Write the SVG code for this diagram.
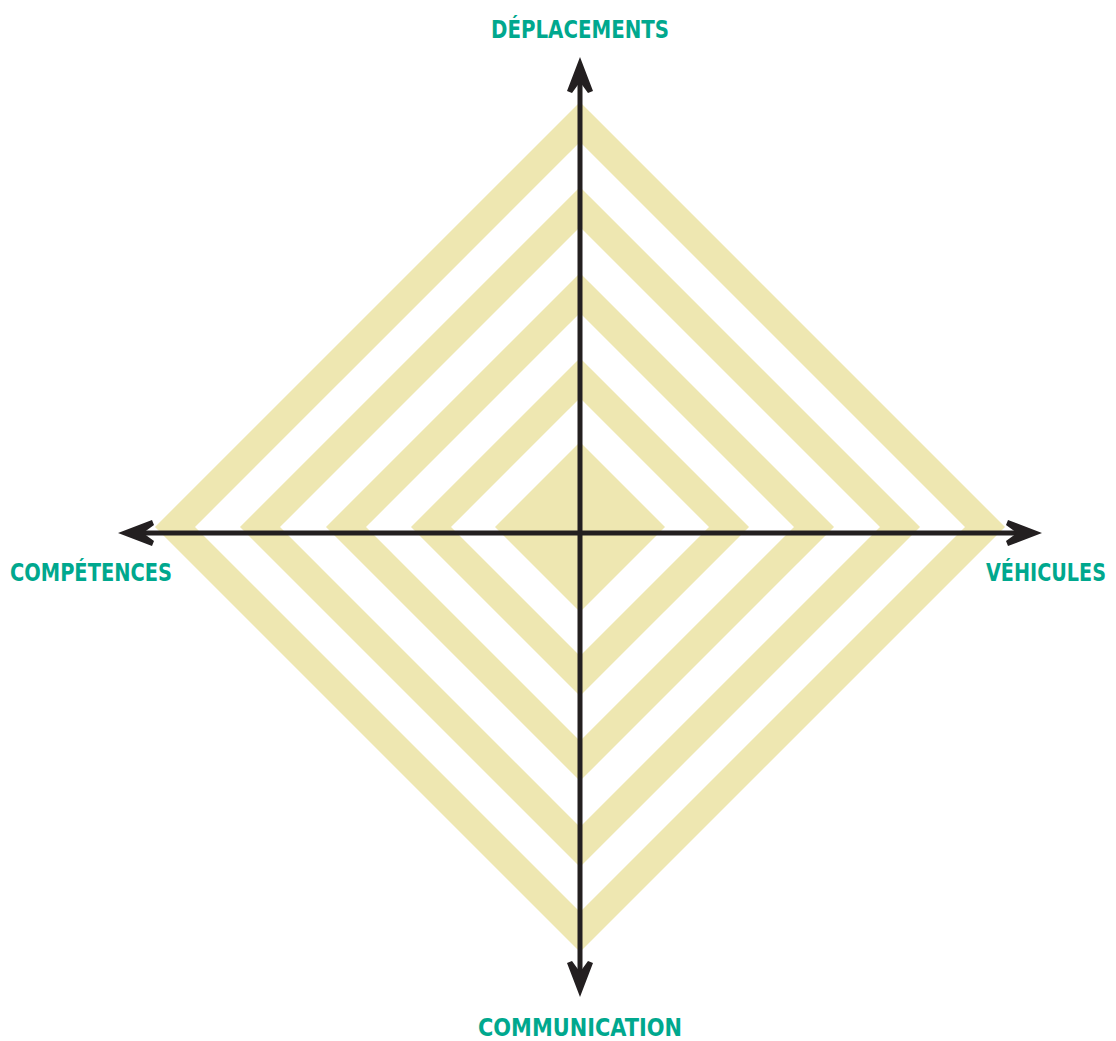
<svg xmlns="http://www.w3.org/2000/svg" width="1116" height="1041" viewBox="0 0 1116 1041">
<style>
.band{fill:none;stroke:#EEE7B1;stroke-width:28.3;stroke-linejoin:miter}
.axis{stroke:#231F20;stroke-width:5;fill:none}
.head{fill:#231F20}
.lbl{font-family:"Liberation Sans Narrow","DejaVu Sans Condensed","Liberation Sans",sans-serif;font-weight:bold;font-size:24px;fill:#00A88E;text-anchor:middle}
</style>
<defs>
<path id="ah" d="M0,0 L-34,-13 L-36,-8 L-25,0 L-36,8 L-34,13 Z"/>
</defs>
<g id="diamonds">
<path class="band" d="M580,122 L985,527 L580,932 L175,527 Z"/>
<path class="band" d="M580,207 L900,527 L580,847 L260,527 Z"/>
<path class="band" d="M580,293 L814,527 L580,761 L346,527 Z"/>
<path class="band" d="M580,378 L729,527 L580,676 L431,527 Z"/>
<path d="M580,442 L665,527 L580,612 L495,527 Z" fill="#EEE7B1"/>
</g>
<g id="connectors">
<line class="axis" x1="580" y1="70" x2="580" y2="985"/>
<line class="axis" x1="130" y1="533" x2="1030" y2="533"/>
<use href="#ah" class="head" transform="translate(580,57) rotate(-90)"/>
<use href="#ah" class="head" transform="translate(580,997) rotate(90)"/>
<use href="#ah" class="head" transform="translate(1042,533)"/>
<use href="#ah" class="head" transform="translate(118,533) rotate(180)"/>
</g>
<g id="label-deplacements"><text class="lbl" x="580" y="38" textLength="178" lengthAdjust="spacingAndGlyphs">DÉPLACEMENTS</text></g>
<g id="label-vehicules"><text class="lbl" x="1046" y="581" textLength="120" lengthAdjust="spacingAndGlyphs">VÉHICULES</text></g>
<g id="label-competences"><text class="lbl" x="91" y="581" textLength="162" lengthAdjust="spacingAndGlyphs">COMPÉTENCES</text></g>
<g id="label-communication"><text class="lbl" x="580" y="1036" textLength="204" lengthAdjust="spacingAndGlyphs">COMMUNICATION</text></g>
</svg>
